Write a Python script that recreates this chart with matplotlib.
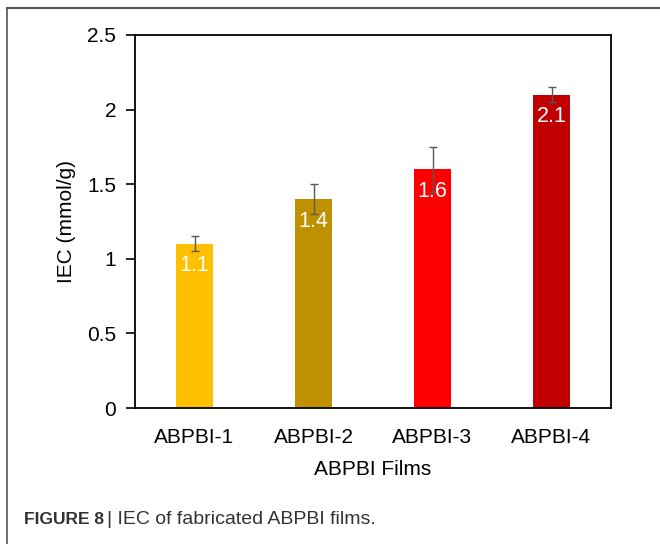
import matplotlib
matplotlib.use("Agg")
import matplotlib.pyplot as plt
from matplotlib.lines import Line2D

categories = ["ABPBI-1", "ABPBI-2", "ABPBI-3", "ABPBI-4"]
iec_values = [1.1, 1.4, 1.6, 2.1]
iec_errors = [0.05, 0.1, 0.15, 0.05]
value_labels = ["1.1", "1.4", "1.6", "2.1"]
bar_colors = ["#FFC000", "#BF9000", "#FF0000", "#C00000"]
y_ticks = [0, 0.5, 1, 1.5, 2, 2.5]
y_tick_labels = ["0", "0.5", "1", "1.5", "2", "2.5"]

plt.rcParams["font.family"] = ["Liberation Sans", "DejaVu Sans"]
FS = 15

fig = plt.figure(figsize=(6.6, 5.44), dpi=100)
ax = fig.add_axes([135/660, 1-408/544, (611-135)/660, (408-35)/544])

x = list(range(len(categories)))
ax.bar(x, iec_values, width=0.31, color=bar_colors, zorder=2)
ax.errorbar(x, iec_values, yerr=iec_errors, fmt="none", ecolor="#595959",
            elinewidth=1.0, capsize=3.2, capthick=1.0, zorder=3)
for xi, v, lab in zip(x, iec_values, value_labels):
    ax.annotate(lab, (xi, v), xytext=(0, -22), textcoords="offset pixels",
                ha="center", va="center", color="white", fontsize=15.5, zorder=4)

ax.set_xlim(-0.5, len(categories) - 0.5)
ax.set_ylim(0, 2.5)
ax.set_yticks(y_ticks)
ax.set_yticklabels(y_tick_labels)
ax.set_xticks(x)
ax.set_xticklabels(categories)
ax.tick_params(axis="y", length=6.5, width=1.2, labelsize=FS, pad=7, color="black")
ax.tick_params(axis="x", length=0, labelsize=FS, pad=14.5)
for s in ax.spines.values():
    s.set_linewidth(1.3)
    s.set_color("black")
ax.set_ylabel("IEC (mmol/g)", fontsize=FS, labelpad=8)
ax.set_xlabel("ABPBI Films", fontsize=FS, labelpad=9.5)

# outer frame (top and left edges)
fig.add_artist(Line2D([7/660, 1.0], [1-8/544, 1-8/544], transform=fig.transFigure,
                      color="#555555", linewidth=1.5))
fig.add_artist(Line2D([7/660, 7/660], [0.0, 1-8/544], transform=fig.transFigure,
                      color="#555555", linewidth=1.2))

# caption
t1 = fig.text(24/660, 1-520/544, "FIGURE 8", fontsize=12.5, fontweight="bold",
              color="#333333", va="center", ha="left")
fig.canvas.draw()
bb = t1.get_window_extent()
x2 = (bb.x1 + 3) / fig.bbox.width
fig.text(x2, 1-520/544, "| IEC of fabricated ABPBI films.", fontsize=14,
         color="#333333", va="center", ha="left")

fig.savefig("out.png", dpi=100)
